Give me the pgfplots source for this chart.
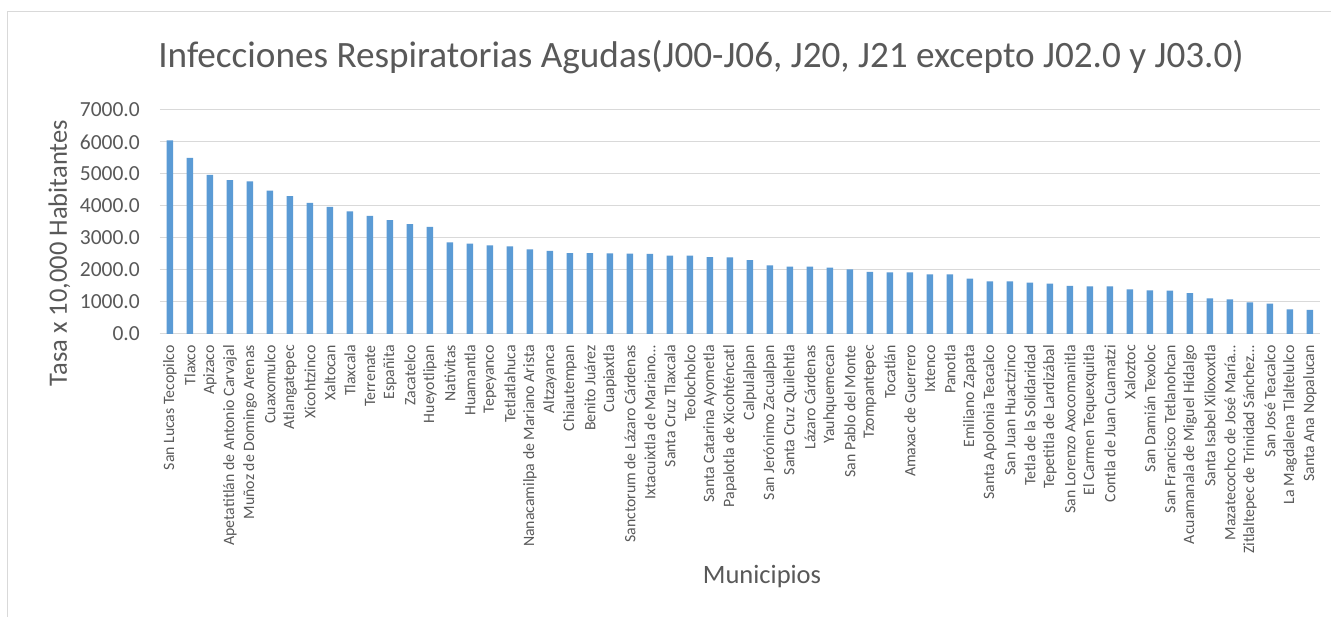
\documentclass[border=0pt]{standalone}
\usepackage{fontspec}
\setmainfont{Carlito}
\usepackage{pgfplots}
\usepackage{pgfplotstable}
\pgfplotsset{compat=1.18}
\definecolor{barblue}{HTML}{5B9BD5}
\definecolor{txtgrey}{HTML}{595959}
\definecolor{gridgrey}{HTML}{D9D9D9}

% tasa por 10,000 habitantes, ordenada de mayor a menor
\pgfplotstableread{
idx val
0 6052
1 5500
2 4969
3 4812
4 4771
5 4479
6 4312
7 4094
8 3969
9 3833
10 3688
11 3562
12 3437
13 3344
14 2864
15 2823
16 2771
17 2740
18 2646
19 2594
20 2531
21 2531
22 2521
23 2510
24 2500
25 2448
26 2448
27 2406
28 2396
29 2312
30 2146
31 2104
32 2104
33 2073
34 2021
35 1938
36 1927
37 1927
38 1865
39 1865
40 1729
41 1646
42 1646
43 1604
44 1573
45 1500
46 1490
47 1490
48 1396
49 1365
50 1354
51 1281
52 1115
53 1083
54 990
55 948
56 771
57 750
}\iradata

\begin{document}
\begin{tikzpicture}[x=1pt,y=1pt]
\useasboundingbox (0,0) rectangle (1331,617);
\fill[white] (0,0) rectangle (1331,617);
\draw[gridgrey, line width=1pt] (7.5,0) -- (7.5,605.5) -- (1331,605.5);
\begin{axis}[
  scale only axis, width=1160pt, height=224pt,
  at={(160pt,283pt)}, anchor=south west,
  xmin=-0.5, xmax=57.5, ymin=0, ymax=7000,
  ybar, bar width=6.5pt,
  axis x line*=bottom, axis y line*=left,
  x axis line style={draw=gridgrey, line width=1pt},
  y axis line style={draw=none},
  ymajorgrids, grid style={gridgrey, line width=1pt},
  major tick length=0pt,
  ytick={0,1000,...,7000},
  xtick={0,...,57},
  xticklabels={San Lucas Tecopilco, Tlaxco, Apizaco, Apetatitlán de Antonio Carvajal,
    Muñoz de Domingo Arenas, Cuaxomulco, Atlangatepec, Xicohtzinco, Xaltocan, Tlaxcala,
    Terrenate, Españita, Zacatelco, Hueyotlipan, Nativitas, Huamantla, Tepeyanco,
    Tetlatlahuca, Nanacamilpa de Mariano Arista, Altzayanca, Chiautempan, Benito Juárez,
    Cuapiaxtla, Sanctorum de Lázaro Cárdenas, Ixtacuixtla de Mariano…, Santa Cruz Tlaxcala,
    Teolocholco, Santa Catarina Ayometla, Papalotla de Xicohténcatl, Calpulalpan,
    San Jerónimo Zacualpan, Santa Cruz Quilehtla, Lázaro Cárdenas, Yauhquemecan,
    San Pablo del Monte, Tzompantepec, Tocatlán, Amaxac de Guerrero, Ixtenco, Panotla,
    Emiliano Zapata, Santa Apolonia Teacalco, San Juan Huactzinco, Tetla de la Solidaridad,
    Tepetitla de Lardizábal, San Lorenzo Axocomanitla, El Carmen Tequexquitla,
    Contla de Juan Cuamatzi, Xaloztoc, San Damián Texoloc, San Francisco Tetlanohcan,
    Acuamanala de Miguel Hidalgo, Santa Isabel Xiloxoxtla, Mazatecochco de José María…,
    Zitlaltepec de Trinidad Sánchez…, San José Teacalco, La Magdalena Tlaltelulco,
    Santa Ana Nopalucan},
  xticklabel style={font=\fontsize{15.8}{18}\selectfont, text=txtgrey,
    rotate=90, anchor=east, inner xsep=11pt, inner ysep=0pt},
  yticklabel style={font=\fontsize{21.5}{24}\selectfont, text=txtgrey,
    inner xsep=20pt, inner ysep=0pt},
  /pgf/number format/assume math mode=true,
  /pgf/number format/.cd, fixed, fixed zerofill, precision=1, 1000 sep={},
  /pgfplots/.cd,
  title={Infecciones Respiratorias Agudas(J00-J06, J20, J21 excepto J02.0 y J03.0)},
  title style={font=\fontsize{37.2}{40}\selectfont, text=txtgrey,
    at={(rel axis cs:0.4664,1.165)}, anchor=base, inner sep=0pt},
  xlabel={Municipios},
  xlabel style={font=\fontsize{26.5}{30}\selectfont, text=txtgrey,
    at={(rel axis cs:0.519,-1.116)}, anchor=base, inner sep=0pt},
  ylabel={Tasa x 10,000 Habitantes},
  ylabel style={font=\fontsize{26.5}{30}\selectfont, text=txtgrey,
    at={(rel axis cs:-0.0802,0.3616)}, rotate=0, anchor=base, inner sep=0pt},
]
\addplot[fill=barblue, draw=none] table[x=idx, y=val] {\iradata};
\end{axis}
\end{tikzpicture}
\end{document}
